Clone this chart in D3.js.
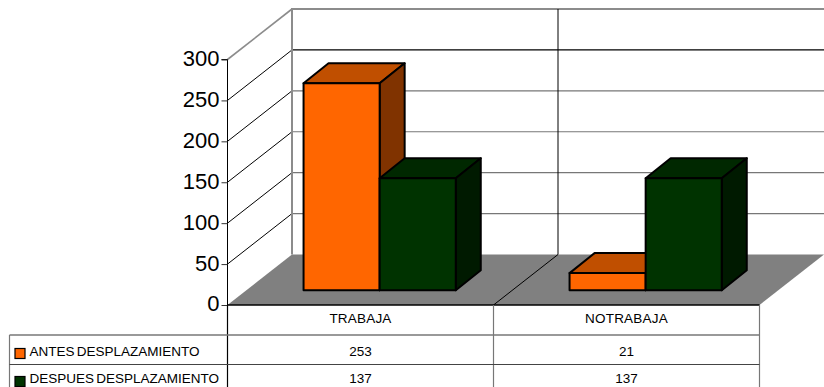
<!DOCTYPE html>
<html><head><meta charset="utf-8">
<script src="https://cdn.jsdelivr.net/npm/d3@7/dist/d3.min.js"></script>
<style>html,body{margin:0;background:#fff}svg{display:block}text{font-family:"Liberation Sans",Arial,sans-serif;fill:#000}</style>
</head><body><svg id="c" width="824" height="387"></svg>
<script>
const categories = ["TRABAJA","NOTRABAJA"];
const seriesNames = ["ANTES DESPLAZAMIENTO","DESPUES DESPLAZAMIENTO"];
const antes = [253,21];
const despues = [137,137];
const tickValues = [0,50,100,150,200,250,300];
const colorsFront = ["#ff6600","#003300"];
const colorsTop = ["#c04f00","#002800"];
const colorsSide = ["#803300","#001a00"];

const svg = d3.select("#c");
const W = 824, H = 387;
const left = 227.5, right = 759.5, y0 = 305, yTop = 59.5;
const dx = 64.5, dy = -50.5;
const x = d3.scaleBand().domain(categories).range([left,right]);
const y = d3.scaleLinear().domain([0,300]).range([y0,yTop]);
const series = [antes,despues];
const grey = "#808080";

svg.append("polygon").attr("points",[[left,y0],[left+dx,y0+dy],[right+dx,y0+dy],[right,y0]].join(" ")).attr("fill",grey);

tickValues.forEach(t=>{
  const yy=y(t);
  if(t>0){
    svg.append("line").attr("x1",left+dx).attr("x2",right+dx).attr("y1",yy+dy).attr("y2",yy+dy)
      .attr("stroke",t===300?"#8c8c8c":(t===250?"#000":"#777")).attr("stroke-width",t===300?2:1.2);
    svg.append("line").attr("x1",left).attr("y1",yy).attr("x2",left+dx).attr("y2",yy+dy)
      .attr("stroke",t===300?"#8c8c8c":"#000").attr("stroke-width",t===300?1.6:1);
  }
});
svg.append("line").attr("x1",left+dx).attr("x2",left+dx).attr("y1",y(300)+dy-1).attr("y2",y0+dy)
  .attr("stroke","#8c8c8c").attr("stroke-width",2);
svg.append("line").attr("x1",x(categories[1])+dx).attr("x2",x(categories[1])+dx).attr("y1",y(300)+dy).attr("y2",y0+dy)
  .attr("stroke","#000").attr("stroke-width",1);
svg.append("line").attr("x1",x(categories[1])).attr("y1",y0).attr("x2",x(categories[1])+dx).attr("y2",y0+dy)
  .attr("stroke","#000").attr("stroke-width",1);

const barW = 76.1, zOff = 0.297, bdx = 25, bdy = -20;
categories.forEach((c,ci)=>{
  const cx = x(c)+x.bandwidth()/2 + dx*zOff;
  const oy = dy*zOff + 0.3;
  series.forEach((s,si)=>{
    const xa = cx + (si-1)*barW, xb = xa+barW;
    const yt = y(s[ci])+oy, yb = y(0)+oy;
    const g = svg.append("g").attr("stroke","#000").attr("stroke-width",2).attr("stroke-linejoin","round");
    g.append("polygon").attr("points",[[xa,yt],[xa+bdx,yt+bdy],[xb+bdx,yt+bdy],[xb,yt]].join(" ")).attr("fill",colorsTop[si]);
    g.append("polygon").attr("points",[[xb,yt],[xb+bdx,yt+bdy],[xb+bdx,yb+bdy],[xb,yb]].join(" ")).attr("fill",colorsSide[si]);
    g.append("rect").attr("x",xa).attr("y",yt).attr("width",barW).attr("height",yb-yt).attr("fill",colorsFront[si]);
  });
});

const axis = d3.axisLeft(y).tickValues(tickValues).tickSize(6).tickPadding(2).tickFormat(d3.format("d"));
const ag = svg.append("g").attr("transform",`translate(${left},0)`).call(axis);
ag.select(".domain").attr("stroke","#000").attr("stroke-width",1).attr("d",`M-6,${yTop}H0V${y0}`);
ag.selectAll(".tick line").attr("stroke","#333").attr("stroke-width",1);
ag.selectAll("text").attr("font-size",22).attr("fill","#000").attr("dy","0.27em").style("font-family",'"Liberation Sans"');

const rowH = [335,364.5];
const tableLeft = 9.5;
svg.append("line").attr("x1",left).attr("x2",right).attr("y1",y0).attr("y2",y0).attr("stroke","#000").attr("stroke-width",1.4);
[x(categories[0]),x(categories[1]),right].forEach((v,i)=>{
  svg.append("line").attr("x1",v).attr("x2",v).attr("y1",y0).attr("y2",H)
    .attr("stroke",i===0?"#000":"#777").attr("stroke-width",1.2);
});
svg.append("line").attr("x1",tableLeft).attr("x2",tableLeft).attr("y1",rowH[0]).attr("y2",H).attr("stroke","#777").attr("stroke-width",1.2);
svg.append("line").attr("x1",tableLeft).attr("x2",right).attr("y1",rowH[0]).attr("y2",rowH[0]).attr("stroke","#777").attr("stroke-width",1.4);
svg.append("line").attr("x1",tableLeft).attr("x2",right).attr("y1",rowH[1]).attr("y2",rowH[1]).attr("stroke","#444").attr("stroke-width",1);

categories.forEach(c=>{
  svg.append("text").attr("x",x(c)+x.bandwidth()/2).attr("y",323).attr("text-anchor","middle")
    .attr("font-size",13.5).attr("letter-spacing",.2).text(c);
});
series.forEach((s,si)=>{
  const base = si===0?356:383;
  svg.append("rect").attr("x",15).attr("y",si===0?348.5:376.5).attr("width",10).attr("height",10)
    .attr("fill",colorsFront[si]).attr("stroke","#000").attr("stroke-width",1.2);
  svg.append("text").attr("x",29.5).attr("y",base).attr("font-size",13.5).attr("word-spacing",-1.5).text(seriesNames[si]);
  categories.forEach((c,ci)=>{
    svg.append("text").attr("x",x(c)+x.bandwidth()/2).attr("y",base).attr("text-anchor","middle")
      .attr("font-size",13.5).text(s[ci]);
  });
});
</script></body></html>
